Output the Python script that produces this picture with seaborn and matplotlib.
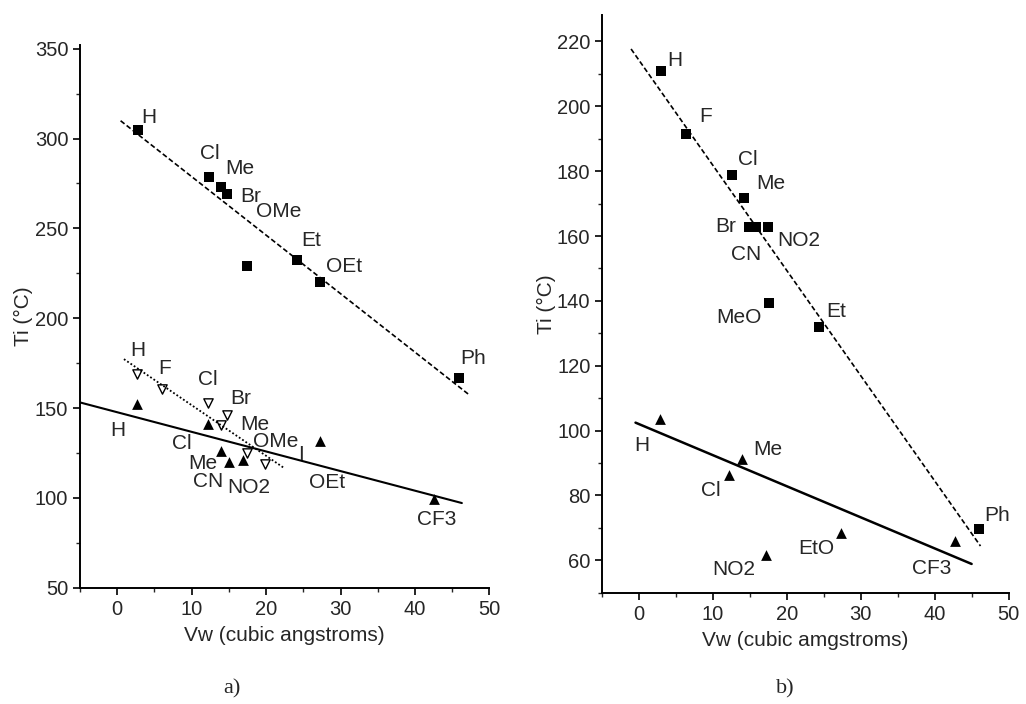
import matplotlib
matplotlib.use("Agg")
import matplotlib.pyplot as plt
import seaborn as sns
import numpy as np
from matplotlib.ticker import MultipleLocator

# ---- data: panel a) ----
a_sq_x = [2.8, 12.3, 14.0, 14.7, 17.4, 24.2, 27.3, 45.9]
a_sq_y = [305, 278.5, 273, 269.3, 229, 232.6, 220.2, 166.8]
a_sq_lab = ["H", "Cl", "Me", "Br", "OMe", "Et", "OEt", "Ph"]

a_open_x = [2.7, 6.0, 12.2, 14.7, 14.0, 17.4, 19.9]
a_open_y = [169, 160.5, 153, 146.3, 140.8, 125.2, 119]
a_open_lab = ["H", "F", "Cl", "Br", "Me", "OMe", "I"]

a_tri_x = [2.7, 12.2, 13.9, 15.0, 16.9, 27.3, 42.5]
a_tri_y = [152.2, 141, 126, 120, 121.2, 131.6, 99.5]
a_tri_lab = ["H", "Cl", "Me", "CN", "NO2", "OEt", "CF3"]

# ---- data: panel b) ----
b_sq_x = [3.0, 6.4, 12.6, 14.2, 14.9, 15.8, 17.5, 17.6, 24.4, 46.0]
b_sq_y = [211, 191.6, 178.8, 171.8, 162.8, 162.8, 162.8, 139.2, 132.1, 69.6]
b_sq_lab = ["H", "F", "Cl", "Me", "Br", "CN", "NO2", "MeO", "Et", "Ph"]

b_tri_x = [2.8, 12.2, 13.9, 17.1, 27.3, 42.8]
b_tri_y = [103.6, 86.2, 91.1, 61.5, 68.3, 65.9]
b_tri_lab = ["H", "Cl", "Me", "NO2", "EtO", "CF3"]
b_tri_infit = [True, True, True, False, True, True]

# label offsets (points) from each marker
a_sq_off = [(8, 9), (1, 17), (13, 13), (17, -2), (23, 39), (10, 14), (17, 11), (10, 14)]
a_open_off = [(0, 17), (2, 15), (0, 17), (10, 12), (24, 0), (21, 8), (26, 7)]
a_tri_off = [(-14, -19), (-19, -14), (-13, -9), (-15, -14), (4, -20), (5, -30), (2, -15)]
b_sq_off = [(10, 7), (14, 12), (11, 11), (19, 10), (-17, 0), (-7, -20), (22, -10),
            (-22, -10), (12, 11), (13, 10)]
b_tri_off = [(-13, -19), (-13, -11), (19, 7), (-23, -10), (-18, -11), (-17, -20)]

FONT = "Liberation Sans"


def fit_line(ax, x, y, span, style, lw, mask=None):
    x = np.asarray(x, float)
    y = np.asarray(y, float)
    if mask is not None:
        m = np.asarray(mask)
        x, y = x[m], y[m]
    k, b = np.polyfit(x, y, 1)
    xs = np.array(span)
    sns.lineplot(x=xs, y=k * xs + b, ax=ax, color="black", lw=lw, linestyle=style)


def points(ax, x, y, marker, size, filled=True):
    sns.scatterplot(x=x, y=y, ax=ax, marker=marker, s=size,
                    color="black" if filled else "white",
                    edgecolor="black", linewidth=1.0 if not filled else 0)


def labels(ax, x, y, labs, offs):
    for xi, yi, t, o in zip(x, y, labs, offs):
        ax.annotate(t, (xi, yi), xytext=o, textcoords="offset points",
                    ha="center", va="center", fontsize=15)


def style_axes(ax, ylim, ymaj, ymin, xlabel):
    ax.set_xlim(-5, 50)
    ax.set_ylim(*ylim)
    ax.xaxis.set_major_locator(MultipleLocator(10))
    ax.xaxis.set_minor_locator(MultipleLocator(5))
    ax.yaxis.set_major_locator(MultipleLocator(ymaj))
    ax.yaxis.set_minor_locator(MultipleLocator(ymin))
    ax.tick_params(which="major", direction="out", length=5, width=1.2,
                   labelsize=14.5, color="black")
    ax.tick_params(which="minor", direction="out", length=3, width=1.0)
    for s in ["top", "right"]:
        ax.spines[s].set_visible(False)
    for s in ["left", "bottom"]:
        ax.spines[s].set_linewidth(1.4)
        ax.spines[s].set_color("black")
    ax.set_xlabel(xlabel, fontsize=15, labelpad=5)
    ax.set_ylabel("Ti (°C)", fontsize=15, labelpad=1)


sns.set_style("ticks")
plt.rcParams["font.family"] = [FONT, "DejaVu Sans"]

fig = plt.figure(figsize=(10.26, 7.04), dpi=100)
ax1 = fig.add_axes([0.078, 0.165, 0.399, 0.771])
ax2 = fig.add_axes([0.587, 0.158, 0.396, 0.820])

# panel a)
fit_line(ax1, a_sq_x, a_sq_y, [0.45, 47.4], (0, (3, 1.6)), 1.2)
fit_line(ax1, a_open_x, a_open_y, [0.9, 22.5], (0, (1, 1.2)), 1.3)
fit_line(ax1, a_tri_x, a_tri_y, [-5, 46.3], "-", 1.5)
points(ax1, a_sq_x, a_sq_y, "s", 48)
points(ax1, a_tri_x, a_tri_y, "^", 60)
points(ax1, a_open_x, a_open_y, "v", 45, filled=False)
labels(ax1, a_sq_x, a_sq_y, a_sq_lab, a_sq_off)
labels(ax1, a_open_x, a_open_y, a_open_lab, a_open_off)
labels(ax1, a_tri_x, a_tri_y, a_tri_lab, a_tri_off)
style_axes(ax1, (50, 352), 50, 25, "Vw (cubic angstroms)")

# panel b)
fit_line(ax2, b_sq_x, b_sq_y, [-1.1, 46.2], (0, (3, 1.6)), 1.2)
fit_line(ax2, b_tri_x, b_tri_y, [-0.5, 45], "-", 1.8, mask=b_tri_infit)
points(ax2, b_sq_x, b_sq_y, "s", 48)
points(ax2, b_tri_x, b_tri_y, "^", 60)
labels(ax2, b_sq_x, b_sq_y, b_sq_lab, b_sq_off)
labels(ax2, b_tri_x, b_tri_y, b_tri_lab, b_tri_off)
style_axes(ax2, (50, 228), 20, 10, "Vw (cubic amgstroms)")

fig.text(232 / 1026, 1 - 689 / 704, "a)", family="Liberation Serif",
         fontsize=16, ha="center", va="center")
fig.text(785 / 1026, 1 - 689 / 704, "b)", family="Liberation Serif",
         fontsize=16, ha="center", va="center")

fig.savefig("out.png", dpi=100)
